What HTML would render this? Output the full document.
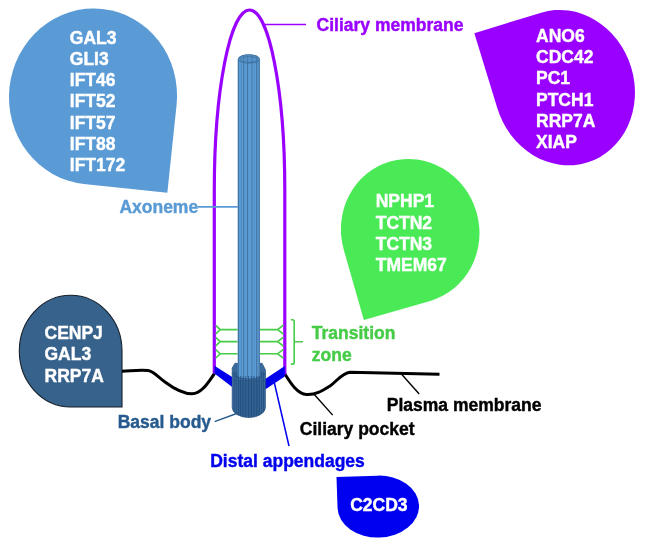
<!DOCTYPE html>
<html><head><meta charset="utf-8"><style>
html,body{margin:0;padding:0;background:#fff;width:645px;height:544px;overflow:hidden}
svg{display:block;will-change:transform}
text{font-family:"Liberation Sans",sans-serif;font-weight:bold}
</style></head><body>
<svg width="645" height="544" viewBox="0 0 645 544">
<path transform="translate(93 96.4) rotate(6) scale(84 88) rotate(0)" d="M-1 0A1 1 0 0 1 0-1A1 1 0 0 1 1 0L1 1L0 1A1 1 0 0 1-1 0Z" fill="#5B9BD5"/>
<path transform="translate(564.2 87.65) rotate(-17) scale(70 78.4) rotate(180)" d="M-1 0A1 1 0 0 1 0-1A1 1 0 0 1 1 0L1 1L0 1A1 1 0 0 1-1 0Z" fill="#9900FF"/>
<path transform="translate(410.2 231.2) rotate(-16) scale(69 72.5) rotate(90)" d="M-1 0A1 1 0 0 1 0-1A1 1 0 0 1 1 0L1 1L0 1A1 1 0 0 1-1 0Z" fill="#4AEA56"/>
<path transform="translate(70.65 351.1) rotate(0) scale(51.35 55.9) rotate(0)" d="M-1 0A1 1 0 0 1 0-1A1 1 0 0 1 1 0L1 1L0 1A1 1 0 0 1-1 0Z" fill="#37628B" stroke="#151f2a" stroke-width="1.1" vector-effect="non-scaling-stroke"/>
<path transform="translate(378.3 506.6) rotate(-2) scale(40.76 30.97) rotate(180)" d="M-1 0A1 1 0 0 1 0-1A1 1 0 0 1 1 0L1 1L0 1A1 1 0 0 1-1 0Z" fill="#0000F0"/>
<text x="69.8" y="44.00" fill="#fff" stroke="#fff" stroke-width="0.4" font-size="17.5">GAL3</text>
<text x="69.8" y="65.15" fill="#fff" stroke="#fff" stroke-width="0.4" font-size="17.5">GLI3</text>
<text x="69.8" y="86.30" fill="#fff" stroke="#fff" stroke-width="0.4" font-size="17.5">IFT46</text>
<text x="69.8" y="107.45" fill="#fff" stroke="#fff" stroke-width="0.4" font-size="17.5">IFT52</text>
<text x="69.8" y="128.60" fill="#fff" stroke="#fff" stroke-width="0.4" font-size="17.5">IFT57</text>
<text x="69.8" y="149.75" fill="#fff" stroke="#fff" stroke-width="0.4" font-size="17.5">IFT88</text>
<text x="69.8" y="170.90" fill="#fff" stroke="#fff" stroke-width="0.4" font-size="17.5">IFT172</text>
<text x="536.0" y="41.90" fill="#fff" stroke="#fff" stroke-width="0.4" font-size="17.5">ANO6</text>
<text x="536.0" y="63.10" fill="#fff" stroke="#fff" stroke-width="0.4" font-size="17.5">CDC42</text>
<text x="536.0" y="84.30" fill="#fff" stroke="#fff" stroke-width="0.4" font-size="17.5">PC1</text>
<text x="536.0" y="105.50" fill="#fff" stroke="#fff" stroke-width="0.4" font-size="17.5">PTCH1</text>
<text x="536.0" y="126.70" fill="#fff" stroke="#fff" stroke-width="0.4" font-size="17.5">RRP7A</text>
<text x="536.0" y="147.90" fill="#fff" stroke="#fff" stroke-width="0.4" font-size="17.5">XIAP</text>
<text x="375.7" y="207.30" fill="#fff" stroke="#fff" stroke-width="0.4" font-size="17.5">NPHP1</text>
<text x="375.7" y="228.60" fill="#fff" stroke="#fff" stroke-width="0.4" font-size="17.5">TCTN2</text>
<text x="375.7" y="249.90" fill="#fff" stroke="#fff" stroke-width="0.4" font-size="17.5">TCTN3</text>
<text x="375.7" y="271.20" fill="#fff" stroke="#fff" stroke-width="0.4" font-size="17.5">TMEM67</text>
<text x="44.5" y="339.20" fill="#fff" stroke="#fff" stroke-width="0.4" font-size="17.5">CENPJ</text>
<text x="44.5" y="360.45" fill="#fff" stroke="#fff" stroke-width="0.4" font-size="17.5">GAL3</text>
<text x="44.5" y="381.70" fill="#fff" stroke="#fff" stroke-width="0.4" font-size="17.5">RRP7A</text>
<text x="350.2" y="511.20" fill="#fff" stroke="#fff" stroke-width="0.4" font-size="17.5">C2CD3</text>
<path d="M122 371.2 C132 370.8 141 369.6 148 370.6 C154 371.5 158 377 165 382 C173 388 183 393.8 192 393.8 C202 393.8 209 381 214.5 373.5" fill="none" stroke="#000" stroke-width="3"/>
<path d="M284.8 373.8 C290 382 297 394 306.5 394.5 C316 395 322 391 330 386 C337 381 342 373 350 372.2 L439.5 374.2" fill="none" stroke="#000" stroke-width="3"/>
<line x1="401.2" y1="373.8" x2="419.2" y2="394" stroke="#000" stroke-width="1.4"/>
<line x1="314.3" y1="394.5" x2="332.7" y2="415.1" stroke="#000" stroke-width="1.4"/>
<path d="M214.3 373.5 L214.3 190 A35.25 180 0 0 1 284.8 190 L284.8 374.5" fill="none" stroke="#9900FF" stroke-width="3.2"/>
<line x1="264.5" y1="24.5" x2="306" y2="24.5" stroke="#9900FF" stroke-width="1.6"/>
<path d="M237.6 329.6 H220.2 L215.8 325.40000000000003 M220.2 329.6 L215.8 333.8 M260 329.6 H277.6 L283.4 325.20000000000005 M277.6 329.6 L283.4 334.0 M237.6 341.6 H220.2 L215.8 337.40000000000003 M220.2 341.6 L215.8 345.8 M260 341.6 H277.6 L283.4 337.20000000000005 M277.6 341.6 L283.4 346.0 M237.6 353.8 H220.2 L215.8 349.6 M220.2 353.8 L215.8 358.0 M260 353.8 H277.6 L283.4 349.40000000000003 M277.6 353.8 L283.4 358.2" fill="none" stroke="#46CC46" stroke-width="1.6"/>
<path d="M290.9 319.7 H292.5 Q294.2 319.7 294.2 321.4 V362.4 Q294.2 364.1 292.5 364.1 H290.9 M294.2 341.8 H303" fill="none" stroke="#46CC46" stroke-width="1.6"/>
<path d="M214.5 365.7 L232.2 377.1 L232.2 387 L214.5 373.4 Z" fill="#0000EE"/>
<path d="M284.8 366 L264.4 379.5 L264.4 390 L284.8 376.5 Z" fill="#0000EE"/>
<line x1="274.4" y1="383" x2="289" y2="446" stroke="#0000EE" stroke-width="1.5"/>
<path d="M232.2 407.5 V368 L235 363.3 H262.1 L265.4 369.8 V407.5 A16.6 10 0 0 1 232.2 407.5 Z" fill="#3A6A9C" stroke="#244F7C" stroke-width="0.7"/>
<clipPath id="bbc"><path d="M232.2 407.5 V368 L235 363.3 H262.1 L265.4 369.8 V407.5 A16.6 10 0 0 1 232.2 407.5 Z"/></clipPath><g clip-path="url(#bbc)">
<path d="M238 377 V415 Q248.8 419 259.5 415 V377 Z" fill="#2F5F8F" opacity="0.7"/>
<line x1="234.2" y1="372" x2="234.2" y2="418" stroke="#244F7C" stroke-width="0.9"/>
<line x1="236.2" y1="372" x2="236.2" y2="418" stroke="#244F7C" stroke-width="0.9"/>
<line x1="238.3" y1="372" x2="238.3" y2="418" stroke="#244F7C" stroke-width="0.9"/>
<line x1="240.6" y1="372" x2="240.6" y2="418" stroke="#244F7C" stroke-width="0.9"/>
<line x1="243.1" y1="372" x2="243.1" y2="418" stroke="#244F7C" stroke-width="0.9"/>
<line x1="245.8" y1="372" x2="245.8" y2="418" stroke="#244F7C" stroke-width="0.9"/>
<line x1="248.6" y1="372" x2="248.6" y2="418" stroke="#244F7C" stroke-width="0.9"/>
<line x1="251.4" y1="372" x2="251.4" y2="418" stroke="#244F7C" stroke-width="0.9"/>
<line x1="254.1" y1="372" x2="254.1" y2="418" stroke="#244F7C" stroke-width="0.9"/>
<line x1="256.8" y1="372" x2="256.8" y2="418" stroke="#244F7C" stroke-width="0.9"/>
<line x1="259.3" y1="372" x2="259.3" y2="418" stroke="#244F7C" stroke-width="0.9"/>
<line x1="261.6" y1="372" x2="261.6" y2="418" stroke="#244F7C" stroke-width="0.9"/>
<line x1="263.6" y1="372" x2="263.6" y2="418" stroke="#244F7C" stroke-width="0.9"/>
</g>
<path d="M237.8 59.3 A11.05 4.9 0 0 1 259.9 59.3 V376 A11.05 3 0 0 1 237.8 376 Z" fill="#5B9BD5"/>
<line x1="238.4" y1="60" x2="238.4" y2="378" stroke="#41719C" stroke-width="1.1"/>
<line x1="241.3" y1="60" x2="241.3" y2="378" stroke="#4A80B5" stroke-width="0.6"/>
<line x1="243.7" y1="60" x2="243.7" y2="378" stroke="#41719C" stroke-width="0.9"/>
<line x1="247.6" y1="60" x2="247.6" y2="378" stroke="#41719C" stroke-width="1.0"/>
<line x1="252" y1="60" x2="252" y2="378" stroke="#41719C" stroke-width="0.8"/>
<line x1="254.2" y1="60" x2="254.2" y2="378" stroke="#4A80B5" stroke-width="0.5"/>
<line x1="256.7" y1="60" x2="256.7" y2="378" stroke="#41719C" stroke-width="1.0"/>
<line x1="259.2" y1="60" x2="259.2" y2="378" stroke="#41719C" stroke-width="1.1"/>
<path d="M238.25 59.3 A10.6 4.6 0 0 1 259.45 59.3 A10.6 3.8 0 0 1 238.25 59.3 Z" fill="#5592CC" stroke="#41719C" stroke-width="0.9"/>
<ellipse cx="248.85" cy="59.5" rx="8.6" ry="2.9" fill="none" stroke="#41719C" stroke-width="0.8"/>
<line x1="243.7" y1="55.5" x2="243.7" y2="63" stroke="#41719C" stroke-width="0.7"/>
<line x1="247.6" y1="55.5" x2="247.6" y2="63" stroke="#41719C" stroke-width="0.7"/>
<line x1="252" y1="55.5" x2="252" y2="63" stroke="#41719C" stroke-width="0.7"/>
<line x1="256.7" y1="55.5" x2="256.7" y2="63" stroke="#41719C" stroke-width="0.7"/>
<path d="M232.2 373.3 A16.6 5.9 0 0 0 265.4 373.3" fill="none" stroke="#244F7C" stroke-width="0.9"/>
<path d="M232.2 373.3 A16.6 5.9 0 0 0 265.4 373.3 V380 H232.2 Z" fill="#3A6A9C"/>
<line x1="234.2" y1="376" x2="234.2" y2="381" stroke="#244F7C" stroke-width="0.8"/>
<line x1="236.2" y1="376" x2="236.2" y2="381" stroke="#244F7C" stroke-width="0.8"/>
<line x1="238.3" y1="376" x2="238.3" y2="381" stroke="#244F7C" stroke-width="0.8"/>
<line x1="240.6" y1="376" x2="240.6" y2="381" stroke="#244F7C" stroke-width="0.8"/>
<line x1="243.1" y1="376" x2="243.1" y2="381" stroke="#244F7C" stroke-width="0.8"/>
<line x1="245.8" y1="376" x2="245.8" y2="381" stroke="#244F7C" stroke-width="0.8"/>
<line x1="248.6" y1="376" x2="248.6" y2="381" stroke="#244F7C" stroke-width="0.8"/>
<line x1="251.4" y1="376" x2="251.4" y2="381" stroke="#244F7C" stroke-width="0.8"/>
<line x1="254.1" y1="376" x2="254.1" y2="381" stroke="#244F7C" stroke-width="0.8"/>
<line x1="256.8" y1="376" x2="256.8" y2="381" stroke="#244F7C" stroke-width="0.8"/>
<line x1="259.3" y1="376" x2="259.3" y2="381" stroke="#244F7C" stroke-width="0.8"/>
<line x1="261.6" y1="376" x2="261.6" y2="381" stroke="#244F7C" stroke-width="0.8"/>
<line x1="263.6" y1="376" x2="263.6" y2="381" stroke="#244F7C" stroke-width="0.8"/>
<line x1="198" y1="206.9" x2="237.8" y2="206.9" stroke="#5B9BD5" stroke-width="1.6"/>
<line x1="214.6" y1="421.7" x2="238" y2="413" stroke="#275A8E" stroke-width="1.4"/>
<text x="316.6" y="31.20" fill="#9900FF" stroke="#9900FF" stroke-width="0.4" font-size="17.5">Ciliary membrane</text>
<text x="119.4" y="212.60" fill="#5B9BD5" stroke="#5B9BD5" stroke-width="0.4" font-size="17.5">Axoneme</text>
<text x="311.8" y="339.40" fill="#46CC46" stroke="#46CC46" stroke-width="0.4" font-size="17.5">Transition</text>
<text x="311.8" y="360.70" fill="#46CC46" stroke="#46CC46" stroke-width="0.4" font-size="17.5">zone</text>
<text x="386.8" y="410.90" fill="#000" stroke="#000" stroke-width="0.4" font-size="17.5">Plasma membrane</text>
<text x="299.8" y="434.90" fill="#000" stroke="#000" stroke-width="0.4" font-size="17.5">Ciliary pocket</text>
<text x="117.7" y="428.30" fill="#275A8E" stroke="#275A8E" stroke-width="0.4" font-size="17.5">Basal body</text>
<text x="210.2" y="467.00" fill="#0000EE" stroke="#0000EE" stroke-width="0.4" font-size="17.5">Distal appendages</text>
</svg>
</body></html>
